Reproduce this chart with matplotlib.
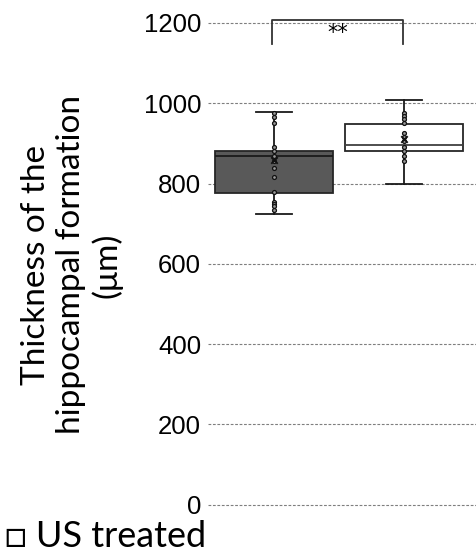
import matplotlib.pyplot as plt

# box statistics (um)
groups = ['control', 'US treated']
q1 = [777, 881]
medians = [869, 896]
q3 = [881, 948]
whisker_lo = [724, 799]
whisker_hi = [978, 1008]
means = [859, 910]

# individual measurements
points_control = [975, 967, 952, 892, 881, 869, 855, 838, 817, 778, 755, 749, 743, 734]
points_treated = [975, 968, 960, 952, 925, 917, 906, 892, 881, 869, 855]

box_colors = ['#595959', '#ffffff']
yticks = [0, 200, 400, 600, 800, 1000, 1200]

fig = plt.figure(figsize=(4.77, 5.54), dpi=100)
ax = fig.add_axes([208 / 477, 49 / 554, 1 - 208 / 477, 482 / 554])

stats = []
for i in range(len(groups)):
	stats.append({'label': groups[i], 'q1': q1[i], 'med': medians[i], 'q3': q3[i],
				  'whislo': whisker_lo[i], 'whishi': whisker_hi[i], 'mean': means[i], 'fliers': []})

bp = ax.bxp(stats, positions=[1, 2], widths=0.905, capwidths=0.276, patch_artist=True,
			showmeans=False, showfliers=False,
			medianprops=dict(color='#1a1a1a', linewidth=1.3),
			whiskerprops=dict(color='#1a1a1a', linewidth=1.3),
			capprops=dict(color='#1a1a1a', linewidth=1.3),
			boxprops=dict(edgecolor='#262626', linewidth=1.3))
for patch, c in zip(bp['boxes'], box_colors):
	patch.set_facecolor(c)
bp['medians'][1].set_color('#404040')

for pos, pts in zip([1, 2], [points_control, points_treated]):
	ax.scatter([pos] * len(pts), pts, s=8, facecolors='#999999', edgecolors='#111111', linewidths=0.9, zorder=4)
ax.scatter([1, 2], means, marker='x', s=22, c='#111111', linewidths=1.3, zorder=5)

# significance bracket
ax.plot([0.985, 0.985, 1.99, 1.99], [1148, 1207, 1207, 1148], color='#333333', linewidth=1.3, clip_on=False)
ax.text(1.49, 1174, '**', ha='center', va='center', fontsize=15, family='DejaVu Sans')

ax.set_xlim(0.494, 2.556)
ax.set_ylim(-1, 1200)
ax.set_yticks(yticks)
ax.set_yticklabels([str(t) for t in yticks], fontsize=18.5, family='Liberation Sans')
ax.set_xticks([])
ax.tick_params(axis='y', length=0, pad=5)
ax.yaxis.grid(True, linestyle=(0, (2.5, 1.5)), color='#7f7f7f', linewidth=0.8)
for gl in ax.get_ygridlines():
	gl.set_clip_on(False)
ax.set_axisbelow(True)
for s in ax.spines.values():
	s.set_visible(False)

fig.text(72 / 477, 1 - 265 / 554, 'Thickness of the\nhippocampal formation\n(\u03bcm)', rotation=90,
		 ha='center', va='center', fontsize=24, family='Lato', linespacing=1.2)
fig.text(5 / 477, 7 / 554, '\u25a1 US treated', ha='left', va='baseline', fontsize=26,
		 family=['Lato', 'DejaVu Sans'])

fig.savefig('out.png', dpi=100)
